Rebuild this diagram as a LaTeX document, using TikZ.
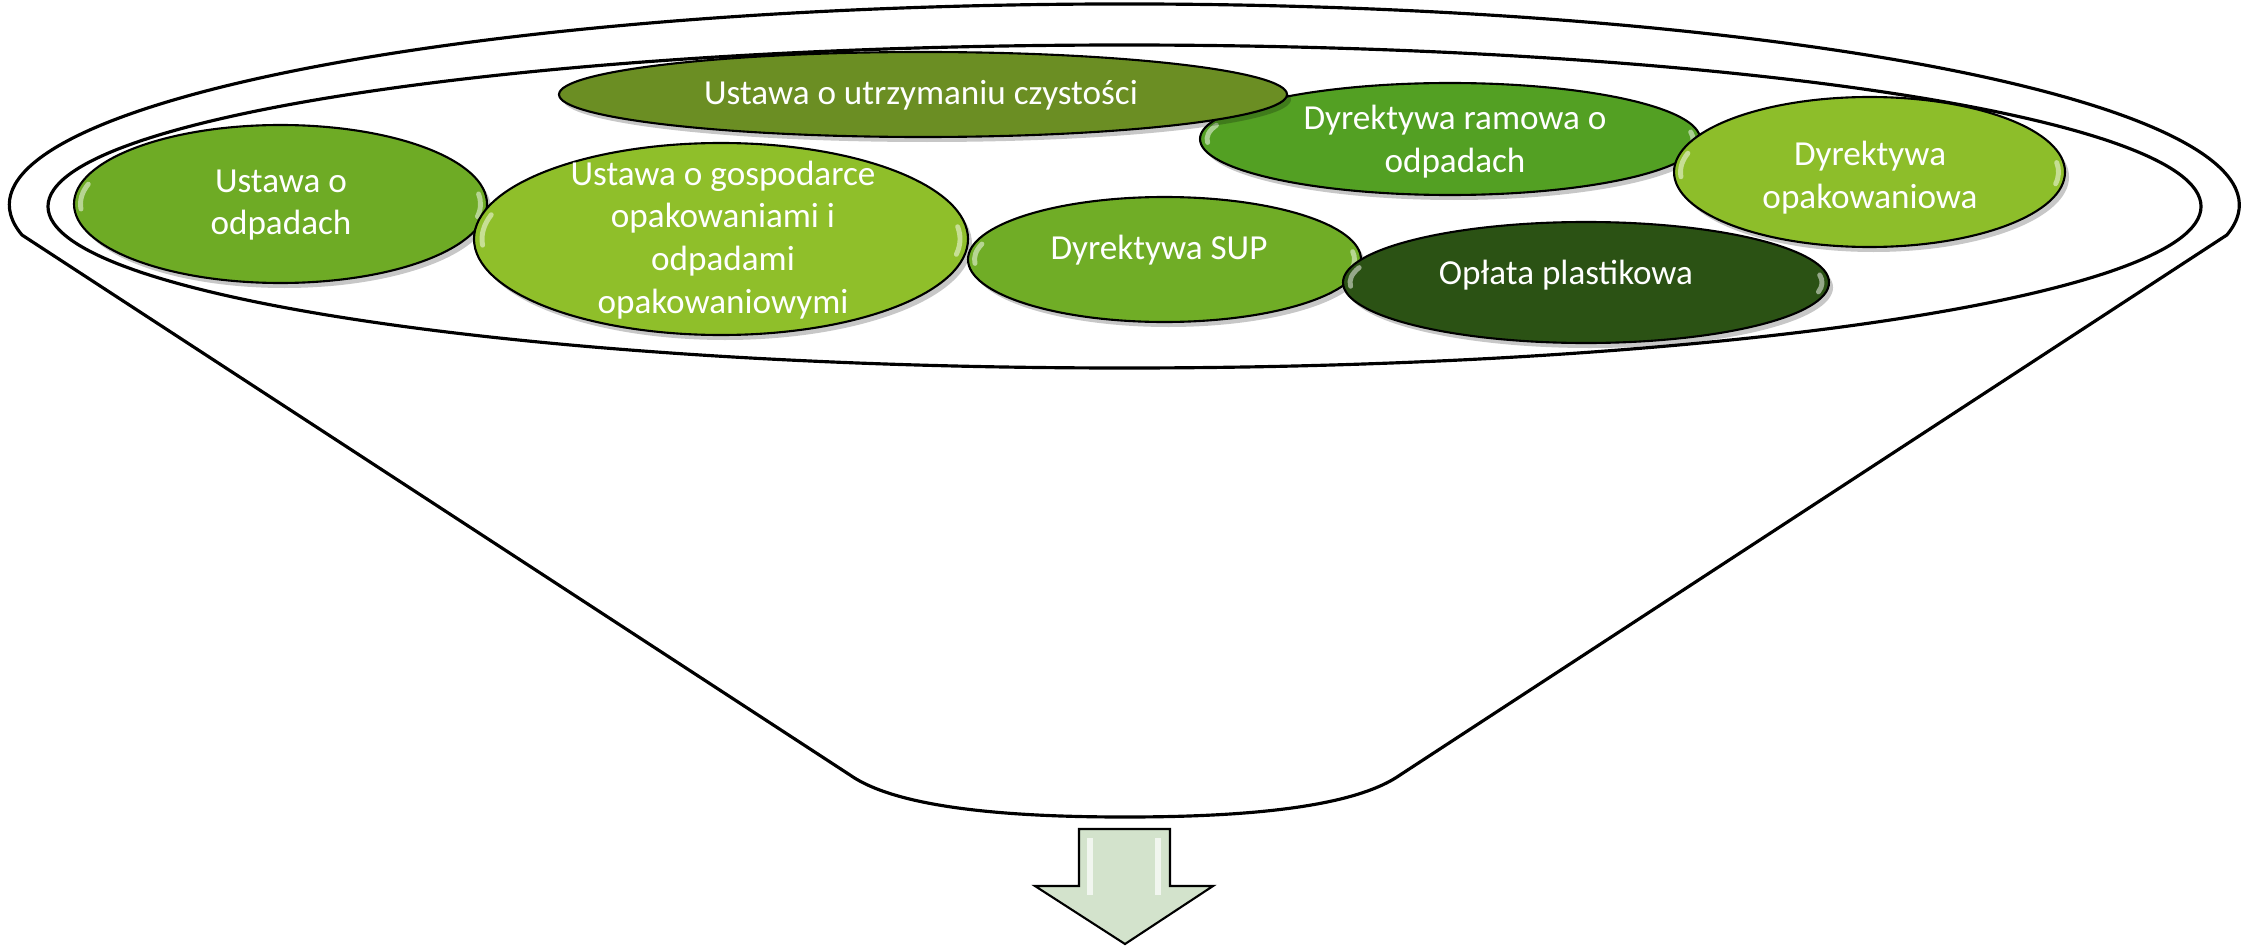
\documentclass[tikz,border=0pt]{standalone}
\usepackage{fontspec}
\setmainfont{Carlito}
\usetikzlibrary{shapes.geometric,shadows}
\pgfdeclareradialshading[gbase,gdark]{glossy}{\pgfpoint{0bp}{0bp}}{color(0bp)=(gbase);color(34bp)=(gbase);color(50bp)=(gdark);color(100bp)=(gdark)}
\definecolor{cOdp}{HTML}{6EAB25}
\definecolor{cRam}{HTML}{53A023}
\definecolor{cUtr}{HTML}{6B8E23}
\definecolor{cGos}{HTML}{8FBF2A}
\definecolor{cSup}{HTML}{70AD26}
\definecolor{cOpl}{HTML}{2B5214}
\definecolor{cOpk}{HTML}{8DBE2A}
\definecolor{cArr}{HTML}{D3E3CC}
\newcommand\glossarcs[3]{%
  \draw[glossline] ([shift={(164:#2 and #3)}]#1.center) arc[start angle=164,end angle=184,x radius=#2,y radius=#3];
  \draw[glossline] ([shift={(-10:#2 and #3)}]#1.center) arc[start angle=-10,end angle=8,x radius=#2,y radius=#3];}
\begin{document}
\begin{tikzpicture}[
  funnel/.style={draw=black,line width=0.9pt,line join=round},
  blob/.style={ellipse,draw=black,line width=0.6pt,inner sep=0pt,
     /utils/exec={\colorlet{gbase}{#1}\colorlet{gdark}{#1!75!black}},
     shade,shading=glossy,
     drop shadow={shadow xshift=0.04cm,shadow yshift=-0.05cm,fill=black,opacity=0.22}},
  lbl/.style={text=white,font=\fontsize{10}{12.2}\selectfont,align=center,inner sep=0pt},
  glossline/.style={white,opacity=0.5,line width=1.4pt,line cap=round},
  arrowshape/.style={draw=black,line width=0.6pt,fill=cArr,line join=miter},
]
\useasboundingbox (0,0) rectangle (22.41,-9.47);

% funnel outline
\draw[funnel] (0.22,-2.35) arc[start angle=188.6,end angle=-8.6,x radius=11.15,y radius=2.01]
  -- (14.00,-7.75) .. controls (13.5,-8.10) and (12.3,-8.17) .. (11.25,-8.17)
  .. controls (10.2,-8.17) and (9.0,-8.10) .. (8.50,-7.75) -- cycle;
% inner rim
\draw[funnel] (11.245,-2.065) ellipse [x radius=10.765, y radius=1.615];

% green ellipses
\node[blob=cOdp,minimum width=4.13cm,minimum height=1.58cm] (odp) at (2.805,-2.04) {};
\glossarcs{odp}{2.0}{0.72}
\node[blob=cGos,minimum width=4.94cm,minimum height=1.92cm] (gos) at (7.21,-2.39) {};
\glossarcs{gos}{2.39}{0.88}
\node[blob=cRam,minimum width=5.00cm,minimum height=1.12cm] (ram) at (14.50,-1.39) {};
\glossarcs{ram}{2.43}{0.50}
\node[blob=cUtr,minimum width=7.28cm,minimum height=0.85cm] (utr) at (9.23,-0.945) {};
\node[blob=cSup,minimum width=3.93cm,minimum height=1.25cm] (sup) at (11.645,-2.595) {};
\glossarcs{sup}{1.90}{0.56}
\node[blob=cOpl,minimum width=4.86cm,minimum height=1.21cm] (opl) at (15.86,-2.825) {};
\glossarcs{opl}{2.36}{0.54}
\node[blob=cOpk,minimum width=3.91cm,minimum height=1.50cm] (opk) at (18.695,-1.72) {};
\glossarcs{opk}{1.89}{0.68}

% labels
\node[lbl] (todp) at (2.81,-2.05) {Ustawa o\\odpadach};
\node[lbl] (tgos) at (7.23,-2.40) {Ustawa o gospodarce\\opakowaniami i\\odpadami\\opakowaniowymi};
\node[lbl] (tram) at (14.55,-1.42) {Dyrektywa ramowa o\\odpadach};
\node[lbl] (tutr) at (9.21,-0.95) {Ustawa o utrzymaniu czystości};
\node[lbl] (tsup) at (11.59,-2.50) {Dyrektywa SUP};
\node[lbl] (topl) at (15.66,-2.75) {Opłata plastikowa};
\node[lbl] (topk) at (18.70,-1.78) {Dyrektywa\\opakowaniowa};

% down arrow
\draw[arrowshape] (10.79,-8.29) -- (11.70,-8.29) -- (11.70,-8.86) -- (12.13,-8.86)
  -- (11.25,-9.44) -- (10.35,-8.86) -- (10.79,-8.86) -- cycle;
\fill[white,opacity=0.7] (10.87,-8.38) rectangle (10.93,-8.95);
\fill[white,opacity=0.7] (11.55,-8.38) rectangle (11.61,-8.95);
\end{tikzpicture}
\end{document}
